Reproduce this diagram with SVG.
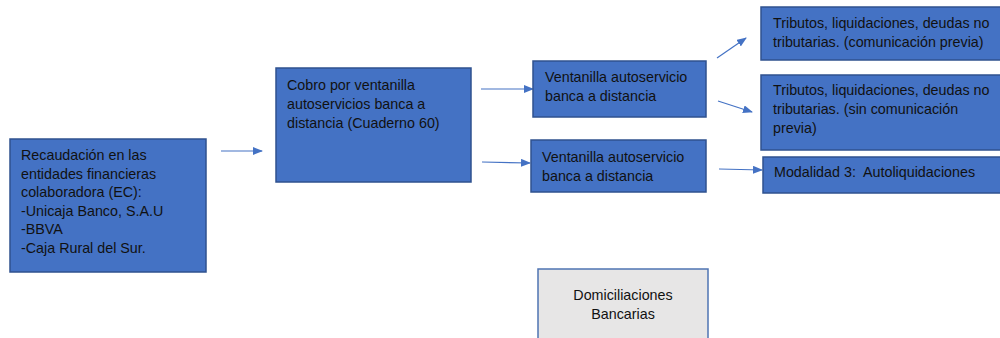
<svg xmlns="http://www.w3.org/2000/svg" width="1000" height="338" viewBox="0 0 1000 338">
<defs>
<marker id="ah" markerWidth="10" markerHeight="8" refX="9" refY="4" orient="auto" markerUnits="userSpaceOnUse">
<path d="M0,0 L10,4 L0,8 Z" fill="#4472C4"/>
</marker>
<style>
.box{fill:#4472C4;stroke:#2F528F;stroke-width:1.5}
.gbox{fill:#E7E6E6;stroke:#4F74B3;stroke-width:1.5}
.t{font-family:"Liberation Sans",Arial,sans-serif;font-size:14.3px;fill:#111}
.c{stroke:#4472C4;stroke-width:1.2;fill:none;marker-end:url(#ah)}
</style>
</defs>
<rect width="1000" height="338" fill="#fff"/>
<g id="connectors">
<line class="c" x1="221" y1="151" x2="262" y2="151"/>
<line class="c" x1="481" y1="89" x2="533" y2="89"/>
<line class="c" x1="482" y1="162" x2="530" y2="163"/>
<line class="c" x1="717" y1="58" x2="746" y2="38"/>
<line class="c" x1="718" y1="101" x2="752" y2="112"/>
<line class="c" x1="719" y1="169" x2="762" y2="170"/>
</g>
<g id="n1">
<rect class="box" x="10" y="139" width="196" height="133"/>
<text class="t" x="21" y="160">Recaudación en las</text>
<text class="t" x="21" y="178.6">entidades financieras</text>
<text class="t" x="21" y="197.2">colaboradora (EC):</text>
<text class="t" x="21" y="215.8">-Unicaja Banco, S.A.U</text>
<text class="t" x="21" y="234.4">-BBVA</text>
<text class="t" x="21" y="253">-Caja Rural del Sur.</text>
</g>
<g id="n2">
<rect class="box" x="276" y="68" width="195" height="114"/>
<text class="t" x="287" y="90">Cobro por ventanilla</text>
<text class="t" x="287" y="109">autoservicios banca a</text>
<text class="t" x="287" y="128">distancia (Cuaderno 60)</text>
</g>
<g id="n3">
<rect class="box" x="533" y="61" width="173" height="56"/>
<text class="t" x="545" y="82">Ventanilla autoservicio</text>
<text class="t" x="545" y="100.5">banca a distancia</text>
</g>
<g id="n4">
<rect class="box" x="531" y="140" width="175" height="52"/>
<text class="t" x="542" y="162">Ventanilla autoservicio</text>
<text class="t" x="542" y="180.5">banca a distancia</text>
</g>
<g id="n5">
<rect class="box" x="761" y="7" width="240" height="53"/>
<text class="t" x="773" y="28">Tributos, liquidaciones, deudas no</text>
<text class="t" x="773" y="47">tributarias. (comunicación previa)</text>
</g>
<g id="n6">
<rect class="box" x="761" y="75" width="240" height="75"/>
<text class="t" x="773" y="95">Tributos, liquidaciones, deudas no</text>
<text class="t" x="773" y="114">tributarias. (sin comunicación</text>
<text class="t" x="773" y="133">previa)</text>
</g>
<g id="n7">
<rect class="box" x="763" y="157" width="238" height="36"/>
<text class="t" x="774" y="177" xml:space="preserve">Modalidad 3:  Autoliquidaciones</text>
</g>
<g id="n8">
<rect class="gbox" x="538" y="269" width="170" height="80"/>
<text class="t" x="623" y="300" text-anchor="middle">Domiciliaciones</text>
<text class="t" x="623" y="318.5" text-anchor="middle">Bancarias</text>
</g>
</svg>
